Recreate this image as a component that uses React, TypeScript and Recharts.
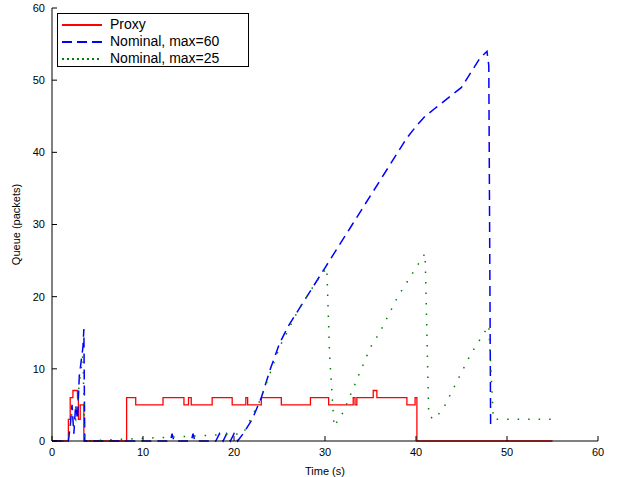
import { LineChart, Line, XAxis, YAxis } from 'recharts';

const TICKS = [0, 10, 20, 30, 40, 50, 60];

// Proxy queue (packets) over time (s)
const proxyT = [0, 1.5, 1.8, 2.0, 2.3, 2.8, 2.9, 3.1, 3.3, 3.5, 3.6, 8.0, 8.2, 9.2, 12.2, 14.5, 15.0, 15.3, 17.6, 19.8, 21.3, 21.5, 23.0, 25.2, 28.4, 30.4, 33.1, 33.3, 33.5, 35.1, 35.3, 35.7, 39.0, 39.9, 40.1, 55];
const proxyQ = [0, 0, 3, 6, 7, 6, 3, 5, 5, 0, 0, 0, 6, 5, 6, 5, 6, 5, 6, 5, 6, 5, 6, 5, 6, 5, 6, 5, 6, 6, 7, 6, 5, 6, 0, 0];

// Nominal, max=60
const nom60T = [0, 1.8, 2.0, 2.2, 2.4, 2.6, 2.8, 3.0, 3.2, 3.4, 3.5, 3.6, 13, 13.2, 13.4, 15.3, 15.5, 15.7, 18, 18.4, 18.8, 19.2, 19.6, 20.0, 20.4, 21, 22, 23, 24, 25, 26, 27, 28, 29, 30, 31, 32, 33, 34, 35, 36, 37, 38, 39, 40, 41, 42, 43, 44, 45, 46, 47, 47.8, 48.0, 48.2];
const nom60Q = [0, 0, 2, 5, 1, 5, 3, 9, 11, 13, 15.5, 0, 0, 1, 0, 0, 1, 0, 0, 1, 0, 1, 0, 1, 0, 1, 3, 6, 10, 13.5, 16, 18, 20, 22, 24, 26, 28, 30, 32, 34, 36, 38, 40, 42, 43.6, 45, 46, 47, 48, 49, 51, 53, 54, 52, 2];

// Nominal, max=25
const nom25T = [0, 1.8, 2.2, 2.6, 3.0, 3.4, 3.6, 21, 23, 25, 27, 29, 30.2, 30.5, 31.0, 32, 33, 34, 35, 36, 37, 38, 39, 40, 41, 41.4, 42, 43, 44, 45, 46, 47, 48, 48.5, 50, 55];
const nom25Q = [0, 0, 4, 3, 8, 12, 0, 1, 6, 13, 18, 22, 24, 12, 2, 4, 7, 10, 13, 15, 17.5, 20, 22, 24, 26, 3.5, 3, 4.5, 7, 9.5, 12, 14, 16, 3, 3, 3];

const zip = (t: number[], q: number[]) => t.map((x, i) => ({ t: x, q: q[i] }));

const font = 'Liberation Sans, Arial, sans-serif';

export default function App() {
  return (
    <div style={{ position: 'absolute', left: 0, top: 0, width: 618, height: 477, background: '#fff', fontFamily: font }}>
      <LineChart width={618} height={477} margin={{ top: 8, right: 20, bottom: 0, left: 0 }}>
        <XAxis xAxisId="b" dataKey="t" type="number" domain={[0, 60]} ticks={TICKS} height={36} stroke="#000"
          tickSize={-5} tick={{ fill: '#000', fontSize: 11, fontFamily: font, dy: 10 }}
          label={{ value: 'Time (s)', position: 'insideBottom', offset: 2, fontSize: 11, fill: '#000' }} allowDuplicatedCategory={false} />
        <XAxis xAxisId="top" orientation="top" dataKey="t" type="number" domain={[0, 60]} ticks={TICKS} height={0} stroke="#000" tickSize={-5} tick={false} />
        <YAxis yAxisId="l" type="number" domain={[0, 60]} ticks={TICKS} width={52} stroke="#000"
          tickSize={-5} tick={{ fill: '#000', fontSize: 11, fontFamily: font, dx: -10 }}
          label={{ value: 'Queue (packets)', angle: -90, position: 'insideLeft', offset: 16, fontSize: 11, fill: '#000', style: { textAnchor: 'middle' } }} />
        <YAxis yAxisId="r" orientation="right" type="number" domain={[0, 60]} ticks={TICKS} width={0} stroke="#000" tickSize={-5} tick={false} />
        <Line xAxisId="b" yAxisId="l" data={zip(proxyT, proxyQ)} dataKey="q" type="stepAfter" stroke="#ff0000" strokeWidth={1.3} dot={false} isAnimationActive={false} />
        <Line xAxisId="b" yAxisId="l" data={zip(nom60T, nom60Q)} dataKey="q" type="linear" stroke="#0000ff" strokeWidth={1.5} strokeDasharray="10 6" dot={false} isAnimationActive={false} />
        <Line xAxisId="b" yAxisId="l" data={zip(nom25T, nom25Q)} dataKey="q" type="linear" stroke="#008000" strokeWidth={1.5} strokeDasharray="1.5 9" dot={false} isAnimationActive={false} />
      </LineChart>
      <div style={{ position: 'absolute', left: 57, top: 13, width: 192, height: 54, border: '1px solid #000', background: '#fff', fontSize: 14, lineHeight: '17px', paddingTop: 2, boxSizing: 'border-box' }}>
        {[
          { name: 'Proxy', color: '#ff0000', dash: '' },
          { name: 'Nominal, max=60', color: '#0000ff', dash: '10 5' },
          { name: 'Nominal, max=25', color: '#008000', dash: '2 3' },
        ].map((e) => (
          <div key={e.name} style={{ display: 'flex', alignItems: 'center' }}>
            <svg width={44} height={10} style={{ marginLeft: 4, marginRight: 4 }}>
              <line x1={0} y1={5} x2={40} y2={5} stroke={e.color} strokeWidth={2} strokeDasharray={e.dash} />
            </svg>
            <span>{e.name}</span>
          </div>
        ))}
      </div>
    </div>
  );
}
